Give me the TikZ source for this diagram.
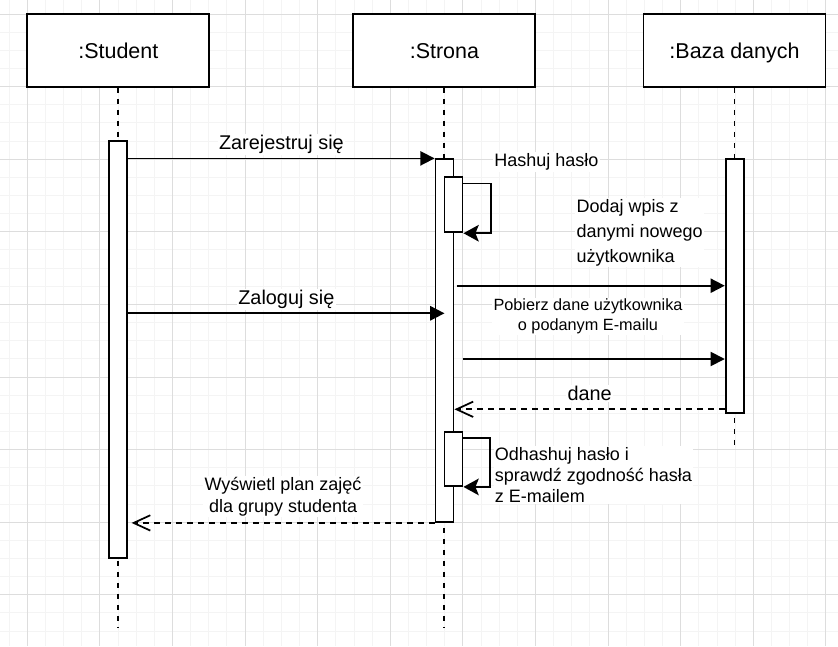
\documentclass[tikz,border=0pt]{standalone}
\usepackage{fontspec}
\setmainfont{Liberation Sans}
\usetikzlibrary{arrows.meta}

\begin{document}
\begin{tikzpicture}[%
    x=0.75pt, y=-0.75pt,
    gridminor/.style={draw=gray!9, line width=0.75pt},
    gridmajor/.style={draw=gray!27, line width=0.75pt},
    lifebox/.style={%
      rectangle,         % participant box
      draw, fill=white,  % black edge, white inside
      line width=1.4pt,
      minimum width=136.5pt,
      minimum height=54.75pt,
      inner sep=0pt,
      font=\fontsize{16.1pt}{19pt}\selectfont,
      text height=11.5pt, text depth=0pt
    },
    bar/.style={%
      rectangle, draw, fill=white,
      line width=1.4pt,
      minimum width=13.5pt,
      inner sep=0pt
    },
    lifeline/.style={line width=1.4pt, dash pattern=on 3.75pt off 4.5pt},
    call/.style={line width=1.3pt, -{Triangle[length=10.7pt, width=10.7pt]}},
    selfcall/.style={line width=1.3pt, -{Stealth[length=11.5pt, width=12.5pt, inset=2.5pt]}},
    reply/.style={%
      line width=1.3pt,
      dash pattern=on 4.5pt off 3.75pt,
      -{Straight Barb[length=12.5pt, width=11.5pt]}
    },
    writing/.style={fill=white, inner sep=1pt, font=\fontsize{13.5pt}{16pt}\selectfont},
    bigwriting/.style={writing, font=\fontsize{14.9pt}{18pt}\selectfont},
    msg/.style={bigwriting, midway, anchor=base, yshift=6.75pt}
]
    \useasboundingbox (0,0) rectangle (838,646);

    % grid
    \foreach \i in {-1,...,44}
      \draw[gridminor] ({27.3+18.15*\i},0) -- ({27.3+18.15*\i},646);
    \foreach \j in {0,...,34}
      \draw[gridminor] (0,{14+18.15*\j}) -- (838,{14+18.15*\j});
    \foreach \i in {0,4,...,44}
      \draw[gridmajor] ({27.3+18.15*\i},0) -- ({27.3+18.15*\i},646);
    \foreach \j in {0,4,...,32}
      \draw[gridmajor] (0,{14+18.15*\j}) -- (838,{14+18.15*\j});

    % participants
    \node at (118.3,50.5) [lifebox] (student) {:Student};
    \node at (444.4,50.5) [lifebox] (strona)  {:Strona};
    \node at (734.5,50.5) [lifebox] (baza)    {:Baza danych};

    % lifelines
    \coordinate (studentEnd) at (118.3,627);
    \coordinate (stronaEnd)  at (444.4,627);
    \coordinate (bazaEnd)    at (734.5,449);
    \draw[lifeline] (student.south) -- (studentEnd);
    \draw[lifeline] (strona.south)  -- (stronaEnd);
    \draw[lifeline] (baza.south)    -- (bazaEnd);

    % activations
    \node at (118.3,349.5)  [bar, minimum height=312.75pt] (barStudent) {};
    \node at (444.5,340.65) [bar, minimum height=272pt]    (barStrona)  {};
    \node at (453.5,204.8)  [bar, minimum height=41.25pt]  (hashBar)    {};
    \node at (453.5,458.85) [bar, minimum height=40.7pt]   (checkBar)   {};
    \node at (734.7,286.3)  [bar, minimum height=190.5pt]  (barBaza)    {};

    % message rows
    \coordinate (rowLogin)   at (0,313.3);
    \coordinate (addFrom)    at (456.7,285.7);
    \coordinate (fetchFrom)  at (462.7,359);
    \coordinate (rowDane)    at (0,409.3);

    % messages
    \draw[call] (barStudent.east |- barStrona.north) -- (barStrona.north west)
      node[msg] {Zarejestruj się};
    \draw[call] (barStudent.east |- rowLogin) -- (barStrona.center |- rowLogin)
      node[msg] {Zaloguj się};
    \draw[selfcall] ([yshift=-5.25pt]hashBar.north east) -- ++(27.3,0) |- (hashBar.south east);
    \draw[call] (addFrom) -- (barBaza.west |- addFrom);
    \draw[call] (fetchFrom) -- (barBaza.west |- fetchFrom);
    \draw[reply] (barBaza.west |- rowDane) -- (barStrona.east |- rowDane)
      node[msg] {dane};
    \draw[selfcall] ([yshift=-5.25pt]checkBar.north east) -- ++(26.6,0) |- (checkBar.south east);
    \draw[reply] (barStrona.south west) -- ([xshift=2.5pt]barStudent.east |- barStrona.south)
      node[writing, midway, anchor=base, yshift=8pt, align=center,
           font=\fontsize{13.5pt}{16.5pt}\selectfont]
      {Wyświetl plan zajęć\\dla grupy studenta};

    % labels
    \node at (492.7,166.7) [writing, anchor=base west] (hashLabel) {Hashuj hasło};
    \node at (575,262.3) [writing, anchor=base west, align=left,
      font=\fontsize{13.5pt}{18.75pt}\selectfont] (addLabel)
      {Dodaj wpis z\\danymi nowego\\użytkownika};
    \node at (588,330) [writing, anchor=base, align=center,
      font=\fontsize{12.2pt}{14.5pt}\selectfont] (fetchLabel)
      {Pobierz dane użytkownika\\o podanym E-mailu};
    \node at (493.3,502.7) [writing, anchor=base west, align=left,
      font=\fontsize{13.5pt}{15.75pt}\selectfont] (checkLabel)
      {Odhashuj hasło i\\sprawdź zgodność hasła\\z E-mailem};

\end{tikzpicture}
\end{document}
